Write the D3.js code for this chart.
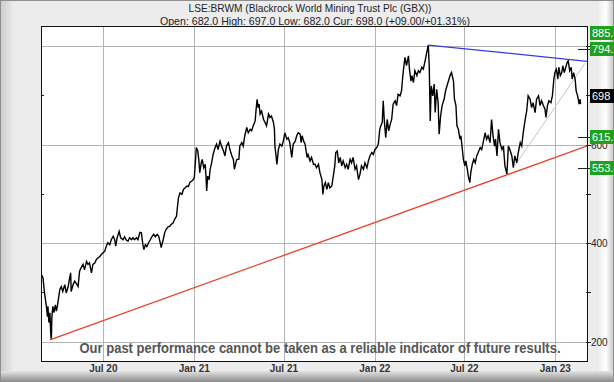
<!DOCTYPE html>
<html>
<head>
<meta charset="utf-8">
<script src="https://cdn.jsdelivr.net/npm/d3@7"></script>
<style>
html,body{margin:0;padding:0;background:#fff;}
svg{display:block;}
</style>
</head>
<body>
<svg id="chart" width="614" height="382"></svg>
<script>
// ---------------- DATA ----------------
const titleLine1 = "LSE:BRWM (Blackrock World Mining Trust Plc (GBX))";
const titleLine2 = "Open: 682.0 High: 697.0 Low: 682.0 Cur: 698.0 (+09.00/+01.31%)";
const disclaimer = "Our past performance cannot be taken as a reliable indicator of future results.";

const startDate = "2020-02-26";
const endDate = "2023-03-08";

// trading day offsets (days since startDate)
const dayOffsets = [
1,4,7,11,13,14,16,18,20,21,22,24,26,29,31,33,36,38,41,44,48,51,55,58,60,61,65,68,71,75,
78,81,85,88,92,95,98,102,105,109,112,115,119,122,125,129,132,135,139,142,146,149,151,154,158,161,166,169,172,176,
179,183,186,189,193,196,200,203,206,208,211,214,218,221,224,228,231,235,238,241,243,247,250,253,257,260,263,267,270,274,276,
278,281,285,288,291,295,298,301,305,308,310,313,314,317,319,321,324,326,329,332,334,335,337,340,342,345,348,352,355,358,
362,365,369,372,375,379,382,386,389,391,394,396,400,402,406,409,412,416,419,423,426,429,433,435,437,439,441,443,446,450,
453,456,460,463,466,470,472,473,475,477,480,483,487,490,493,497,500,503,507,510,514,517,520,524,526,528,531,534,536,538,
540,544,547,551,
554,557,561,564,568,570,572,575,578,581,584,588,591,594,596,599,602,605,608,611,615,618,621,625,628,631,635,638,642,645,
648,652,655,659,662,665,669,672,675,679,682,685,687,690,692,694,697,700,703,706,709,712,716,719,722,726,729,731,733,736,
739,743,745,748,750,753,756,760,763,766,770,773,776,780,783,785,787,789,792,795,797,800,803,805,808,811,815,
818,822,826,827,830,834,836,839,841,844,847,849,852,854,857,859,862,864,867,869,872,875,878,881,884,888,891,894,898,901,
904,908,911,914,917,919,922,925,928,932,935,938,942,945,948,952,955,958,962,965,969,972,975,979,982,985,989,992,995,999,
1002,1006,1009,1012,1016,1019,1021,1024,1027,1031,1034,1037,1039,1042,1045,1047,1050,1053,1055,1058,1061,1064,1066,1069,1072,1074,1077,1080,1082,1085,
1088,1090,1091
];

// closing prices (GBX)
const prices = [
336,330,300,271,251,272,239,259,211,206,251,272,259,275,262,272,292,306,312,302,316,299,312,330,340,302,316,323,319,312,
343,350,357,346,363,357,360,340,357,360,367,370,373,377,380,384,394,401,397,407,414,407,394,411,424,411,407,413,407,404,
411,407,411,407,411,407,422,421,397,387,397,393,402,407,413,418,413,418,414,401,391,407,421,428,433,434,438,441,448,455,475,
492,502,499,509,512,516,515,523,526,529,533,577,594,587,570,543,563,570,553,560,529,506,536,529,550,563,580,594,601,590,
607,597,587,577,597,604,590,577,570,550,563,570,570,597,604,597,618,635,624,631,628,638,648,672,692,675,682,662,668,651,
645,638,662,655,658,645,631,597,580,560,590,601,597,607,624,611,614,604,574,601,607,618,624,621,604,618,607,601,587,574,
580,567,574,560,
560,553,560,543,529,499,516,523,509,523,512,516,536,557,584,587,563,574,557,567,553,560,550,570,563,574,550,557,529,540,
557,550,563,553,567,577,584,580,590,594,601,631,638,645,689,651,614,651,628,641,651,682,689,679,702,699,709,733,753,777,
760,780,753,729,740,726,750,740,750,746,757,753,767,787,802,760,648,719,699,723,665,712,685,621,658,679,692,
709,723,736,740,746,729,692,679,638,631,611,618,590,570,557,567,550,536,523,543,560,570,563,577,584,594,590,604,624,611,
618,604,651,618,597,611,577,631,604,590,597,557,540,597,590,577,553,577,563,584,604,597,624,651,668,699,692,675,685,665,
692,699,679,689,679,672,655,679,689,685,699,733,746,753,733,757,740,746,760,746,757,767,770,750,757,733,746,733,709,699,
682,692,682
];

// trend lines: [dayOffset, price]
const supportLine = [[18, 204], [1106, 598]];
const resistanceLine = [[783, 802], [1104, 769]];
const shortTrendLine = [[958, 557], [1100, 765]];

// right-hand level labels
const levelValues = [885.5, 794.7, 698, 615.1, 553.4];
const levelLabels = ["885.5", "794.7", "698", "615.1", "553.4"];
const levelKinds = ["target", "target", "current", "target", "target"];

const yTickValues = [200, 400, 600, 800];
const yMinorTicks = [300, 500, 700];
const yDomain = [159, 840.6];

// ---------------- CHART ----------------
const svg = d3.select("#chart");
const W = 614, H = 382;
const plot = {left: 41, right: 588, top: 26, bottom: 362};

const parse = d3.timeParse("%Y-%m-%d");
const t0 = parse(startDate), t1 = parse(endDate);
const toDate = d => d3.timeDay.offset(t0, d);

const x = d3.scaleTime().domain([t0, t1]).range([plot.left, plot.right]);
const y = d3.scaleLinear().domain(yDomain).range([plot.bottom, plot.top]);

const defs = svg.append("defs");
const gBottom = defs.append("linearGradient").attr("id","gb").attr("x1",0).attr("y1",0).attr("x2",0).attr("y2",1);
gBottom.append("stop").attr("offset","0%").attr("stop-color","#e4e4e4");
gBottom.append("stop").attr("offset","100%").attr("stop-color","#8a8a8a");
const gRight = defs.append("linearGradient").attr("id","gr").attr("x1",0).attr("y1",0).attr("x2",1).attr("y2",0);
gRight.append("stop").attr("offset","0%").attr("stop-color","#e8e8e8");
gRight.append("stop").attr("offset","55%").attr("stop-color","#ffffff");
gRight.append("stop").attr("offset","100%").attr("stop-color","#c4c4c4");
const gLeft = defs.append("linearGradient").attr("id","gl").attr("x1",0).attr("y1",0).attr("x2",1).attr("y2",0);
gLeft.append("stop").attr("offset","0%").attr("stop-color","#cbcbcb");
gLeft.append("stop").attr("offset","100%").attr("stop-color","#ececec");

// frame background
svg.append("rect").attr("x",0).attr("y",0).attr("width",W).attr("height",H).attr("fill","#ececec");
svg.append("rect").attr("x",0).attr("y",0).attr("width",14).attr("height",H).attr("fill","url(#gl)");
svg.append("rect").attr("x",596).attr("y",0).attr("width",18).attr("height",H).attr("fill","url(#gr)");
svg.append("rect").attr("x",0).attr("y",371).attr("width",W).attr("height",11).attr("fill","url(#gb)");
svg.append("rect").attr("x",0.5).attr("y",0.5).attr("width",W-1).attr("height",H-1).attr("fill","none").attr("stroke","#8e8e8e");

// titles
svg.append("text").attr("x",310).attr("y",12).attr("text-anchor","middle")
  .attr("font-family","Liberation Sans, Arial, sans-serif").attr("font-size",11).attr("fill","#222")
  .attr("textLength",243).attr("lengthAdjust","spacingAndGlyphs")
  .text(titleLine1);
svg.append("text").attr("x",315).attr("y",25).attr("text-anchor","middle")
  .attr("font-family","Liberation Sans, Arial, sans-serif").attr("font-size",11).attr("fill","#222")
  .attr("textLength",310).attr("lengthAdjust","spacingAndGlyphs")
  .text(titleLine2);

// plot background
svg.append("rect").attr("x",plot.left).attr("y",plot.top)
  .attr("width",plot.right-plot.left).attr("height",plot.bottom-plot.top).attr("fill","#fff");

const clip = defs.append("clipPath").attr("id","clip");
clip.append("rect").attr("x",plot.left).attr("y",plot.top)
  .attr("width",plot.right-plot.left).attr("height",plot.bottom-plot.top);

// grid
const xTicks = x.ticks(d3.timeMonth.every(6));
const grid = svg.append("g").attr("stroke","#b4b4b4").attr("stroke-width",1).attr("shape-rendering","crispEdges");
grid.selectAll("line.v").data(xTicks).join("line").attr("class","v")
  .attr("x1",d=>Math.round(x(d))+0.5).attr("x2",d=>Math.round(x(d))+0.5)
  .attr("y1",plot.top).attr("y2",plot.bottom);
grid.selectAll("line.h").data(yTickValues).join("line").attr("class","h")
  .attr("x1",plot.left).attr("x2",plot.right)
  .attr("y1",d=>Math.round(y(d))+0.5).attr("y2",d=>Math.round(y(d))+0.5);

// left minor ticks
svg.append("g").attr("stroke","#222").attr("shape-rendering","crispEdges")
  .selectAll("line").data(yMinorTicks).join("line")
  .attr("x1",plot.left).attr("x2",plot.left+3)
  .attr("y1",d=>Math.round(y(d))+0.5).attr("y2",d=>Math.round(y(d))+0.5);

// disclaimer
svg.append("text").attr("x",320).attr("y",353).attr("text-anchor","middle")
  .attr("font-family","Liberation Sans Narrow, Arial Narrow, sans-serif").attr("font-weight","bold")
  .attr("font-size",15).attr("fill","#555")
  .attr("textLength",481).attr("lengthAdjust","spacingAndGlyphs")
  .text(disclaimer);

// series
const pts = dayOffsets.map((d,i)=>({date:toDate(d), v:prices[i]}));
const line = d3.line().x(d=>x(d.date)).y(d=>y(d.v));
const gData = svg.append("g").attr("clip-path","url(#clip)");

const tl = d3.line().x(d=>x(toDate(d[0]))).y(d=>y(d[1]));
gData.append("path").attr("d",tl(shortTrendLine)).attr("fill","none").attr("stroke","#c4c4c4").attr("stroke-width",1);
gData.append("path").datum(pts).attr("d",line).attr("fill","none").attr("stroke","#000").attr("stroke-width",1.4).attr("stroke-linejoin","miter");
gData.append("path").attr("d",tl(supportLine)).attr("fill","none").attr("stroke","#e8402c").attr("stroke-width",1.3);
gData.append("path").attr("d",tl(resistanceLine)).attr("fill","none").attr("stroke","#3a3ad6").attr("stroke-width",1.3);

// plot border
svg.append("rect").attr("x",plot.left+0.5).attr("y",plot.top+0.5)
  .attr("width",plot.right-plot.left-1).attr("height",plot.bottom-plot.top-1)
  .attr("fill","none").attr("stroke","#111").attr("shape-rendering","crispEdges");

// x axis labels
svg.append("g").selectAll("text").data(xTicks).join("text")
  .attr("x",d=>x(d)).attr("y",372).attr("text-anchor","middle")
  .attr("font-family","Liberation Sans, Arial, sans-serif").attr("font-size",10).attr("font-weight","bold").attr("fill","#333")
  .text(d3.timeFormat("%b %y"));

// right axis ticks & labels
const rAx = svg.append("g");
rAx.selectAll("line.maj").data(yTickValues.concat(yMinorTicks)).join("line").attr("class","maj")
  .attr("x1",plot.right-2).attr("x2",plot.right+3)
  .attr("y1",d=>Math.round(y(d))+0.5).attr("y2",d=>Math.round(y(d))+0.5)
  .attr("stroke","#222").attr("shape-rendering","crispEdges");
rAx.selectAll("text").data(yTickValues).join("text")
  .attr("x",plot.right+3).attr("y",d=>y(d)+4)
  .attr("font-family","Liberation Sans, Arial, sans-serif").attr("font-size",10).attr("fill","#222")
  .text(d=>d);

// level label boxes
const levels = levelValues.map((v,i)=>({v, label:levelLabels[i], kind:levelKinds[i]}));
const lg = svg.append("g");
levels.forEach(L=>{
  let cy = y(L.v);
  cy = Math.max(cy, plot.top + 7);
  if (L.kind === "target" && y(L.v) >= plot.top) {
    lg.append("line").attr("x1",plot.right-10).attr("x2",plot.right+2)
      .attr("y1",Math.round(cy)+0.5).attr("y2",Math.round(cy)+0.5)
      .attr("stroke","#222").attr("shape-rendering","crispEdges");
  }
  lg.append("rect").attr("x",plot.right+2).attr("y",Math.round(cy)-7)
    .attr("width",30).attr("height",14)
    .attr("fill", L.kind === "current" ? "#000" : "#1fa01f");
  lg.append("text").attr("x",plot.right+4).attr("y",Math.round(cy)+4)
    .attr("font-family","Liberation Sans, Arial, sans-serif").attr("font-size",11).attr("fill","#fff")
    .text(L.label);
});
</script>
</body>
</html>
